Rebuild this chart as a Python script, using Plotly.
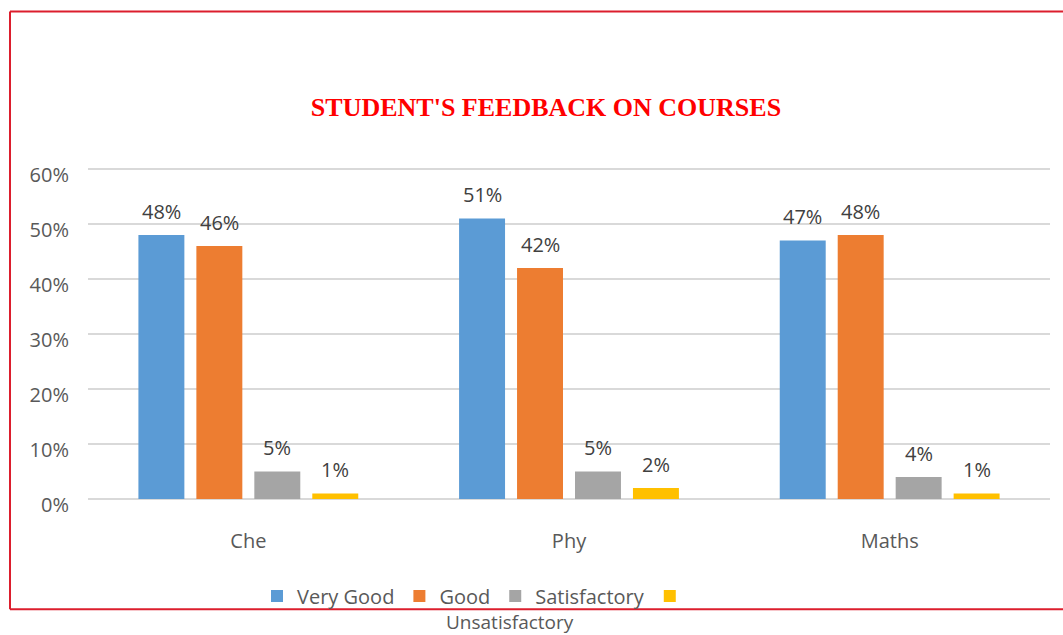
import plotly.graph_objects as go

categories = ["Che", "Phy", "Maths"]
series_names = ["Very Good", "Good", "Satisfactory", "Unsatisfactory"]
very_good = [48, 51, 47]
good = [46, 42, 48]
satisfactory = [5, 5, 4]
unsatisfactory = [1, 2, 1]
y_ticks = [0, 10, 20, 30, 40, 50, 60]

colors = ["#5B9BD5", "#ED7D31", "#A5A5A5", "#FFC000"]
values = [very_good, good, satisfactory, unsatisfactory]

FONT = "Open Sans"
W, H = 1063, 635
L, R, T, B = 88, 13, 169, 136
pw, ph = W - L - R, H - T - B
BARGAP, GROUPGAP = 0.277, 0.207
YMAX = 0.6

# pixel offsets of each bar within its category (derived from bargap settings)
cat_w = pw / len(categories)
slot = cat_w * (1 - BARGAP) / len(series_names)
offsets = [(i - (len(series_names) - 1) / 2) * slot for i in range(len(series_names))]

fig = go.Figure()
annotations = []
for i, (name, vals, col) in enumerate(zip(series_names, values, colors)):
    fig.add_trace(go.Bar(
        x=categories,
        y=[v / 100 for v in vals],
        name=name if i < 3 else "",
        marker=dict(color=col, line=dict(width=0)),
        hovertemplate=name + ": %{y:.0%}<extra></extra>",
    ))
    for c, v in zip(categories, vals):
        annotations.append(dict(
            x=c, y=v / 100, xref="x", yref="y", text=f"{v}%",
            showarrow=False, xanchor="center", yanchor="middle",
            xshift=offsets[i], yshift=24,
            font=dict(family=FONT, size=20, color="#404040")))


def px_x(x):
    return (x - L) / pw


def px_y(y):
    return (H - B - y) / ph


annotations.append(dict(text="Unsatisfactory", xref="paper", yref="paper",
                        x=px_x(510), y=px_y(622), xanchor="center", yanchor="middle",
                        showarrow=False,
                        font=dict(family=FONT, size=19, color="#595959")))

border = "#DC1E2D"
shapes = [
    dict(type="line", xref="paper", yref="paper", x0=px_x(10), x1=px_x(10),
         y0=px_y(13), y1=px_y(609), line=dict(color=border, width=2)),
    dict(type="line", xref="paper", yref="paper", x0=px_x(10), x1=px_x(1070),
         y0=px_y(13), y1=px_y(13), line=dict(color=border, width=2)),
    dict(type="line", xref="paper", yref="paper", x0=px_x(10), x1=px_x(1070),
         y0=px_y(609), y1=px_y(609), line=dict(color=border, width=2)),
]

fig.update_layout(
    width=W, height=H,
    margin=dict(l=L, r=R, t=T - 1, b=B, autoexpand=False),
    paper_bgcolor="white", plot_bgcolor="white",
    barmode="group", bargap=BARGAP, bargroupgap=GROUPGAP,
    title=dict(text="<b>STUDENT'S FEEDBACK ON COURSES</b>",
               font=dict(family="Liberation Serif", size=26, color="#FF0000"),
               x=546 / W, xanchor="center", xref="container",
               y=1 - 107 / H, yanchor="middle", yref="container"),
    font=dict(family=FONT, size=20, color="#595959"),
    xaxis=dict(showgrid=False, showline=False, zeroline=False,
               ticks="outside", ticklen=24, tickcolor="rgba(0,0,0,0)",
               tickfont=dict(family=FONT, size=20, color="#595959")),
    yaxis=dict(range=[0, YMAX + 0.002], tickvals=[t / 100 for t in y_ticks],
               ticktext=[f"{t}%" for t in y_ticks],
               showgrid=True, gridcolor="#D9D9D9", gridwidth=1.5,
               zeroline=True, zerolinecolor="#D9D9D9", zerolinewidth=1.5,
               showline=False, ticks="", ticklabelstandoff=18, ticklabelshift=6,
               tickfont=dict(family=FONT, size=20, color="#595959")),
    showlegend=True,
    legend=dict(orientation="h", xref="container", yref="container",
                x=257 / W, xanchor="left", y=1 - 596 / H, yanchor="middle",
                bgcolor="rgba(0,0,0,0)",
                font=dict(family=FONT, size=20, color="#595959"),
                itemclick=False, itemdoubleclick=False, traceorder="normal"),
    annotations=annotations,
    shapes=shapes,
)

fig.write_html("out.html", config={"displayModeBar": False},
               post_script="document.body.style.margin='0px';")
